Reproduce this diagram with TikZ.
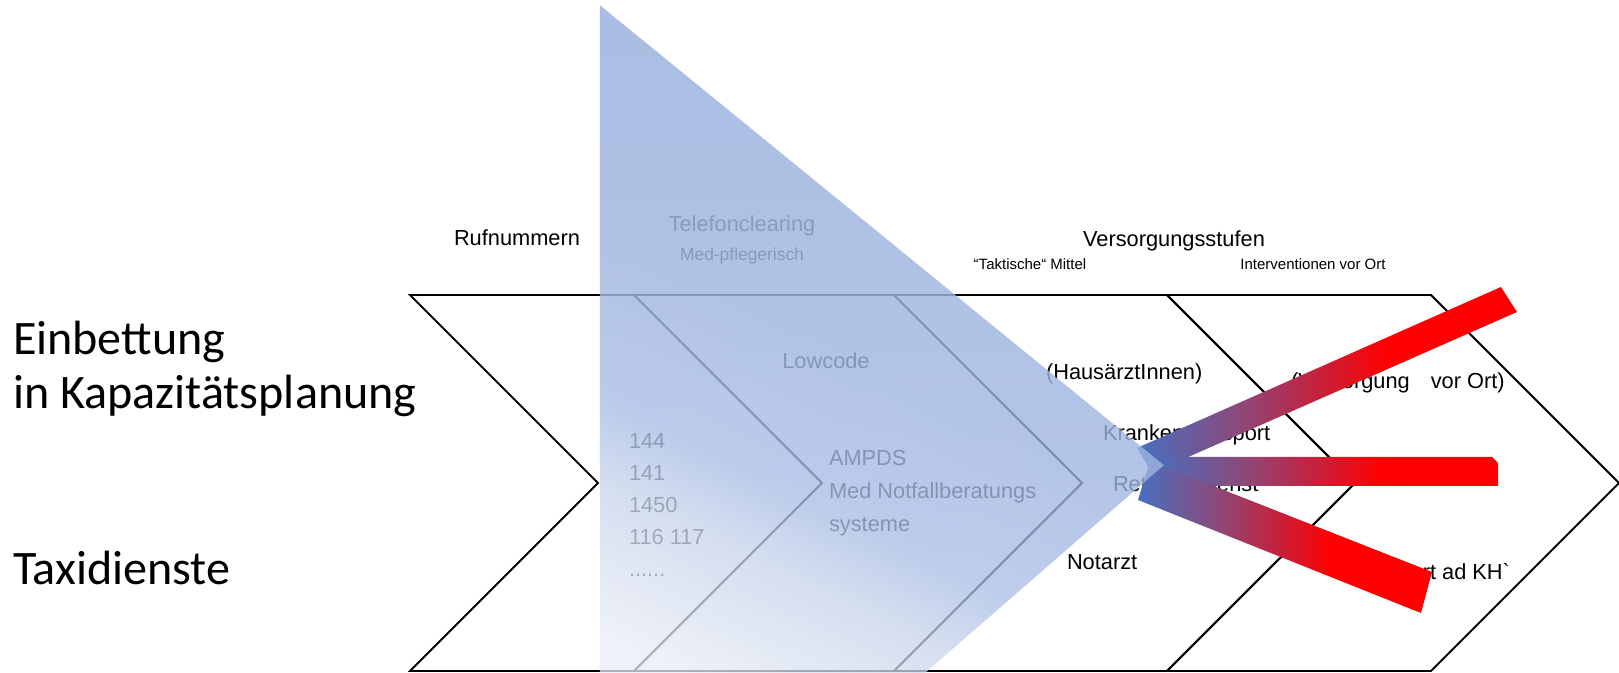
\documentclass[tikz,border=0pt]{standalone}
\usepackage{fontspec}
\setmainfont{Liberation Sans}[Ligatures=TeXOff]
\newfontfamily\calibrifont{Carlito}
\usetikzlibrary{fadings}

% colours of the three red arrows (blue root, red tip)
\definecolor{barA}{HTML}{4670C0}
\definecolor{barB}{HTML}{8A4A7C}
\definecolor{barC}{HTML}{C4223E}
\definecolor{barR}{HTML}{FF0000}
% colours of the translucent blue wedge
\definecolor{ovA}{RGB}{160,182,224}
\definecolor{ovB}{RGB}{171,190,229}
\definecolor{ovC}{RGB}{200,213,235}
\definecolor{ovD}{RGB}{233,237,246}

\pgfdeclarehorizontalshading{bartone}{100bp}{color(0bp)=(barA); color(25bp)=(barA); color(38bp)=(barB); color(48.5bp)=(barC); color(58bp)=(barR); color(100bp)=(barR)}
\pgfdeclareverticalshading{veiltone}{100bp}{color(0bp)=(ovD); color(19bp)=(ovD); color(30bp)=(ovC); color(36bp)=(ovB); color(48bp)=(ovA); color(100bp)=(ovA)}
% wedge is denser at the top than at the bottom
\tikzfading[name=veilfade, top color=transparent!10, bottom color=transparent!25]

\begin{document}
\begin{tikzpicture}[x=0.5pt, y=-0.5pt,
  lbl/.style={font=\fontsize{10.9}{13}\selectfont, inner sep=0pt, outer sep=0pt},
  smalllbl/.style={font=\fontsize{7.5}{9}\selectfont, inner sep=0pt, outer sep=0pt},
  sublbl/.style={font=\fontsize{8.7}{10}\selectfont, inner sep=0pt, outer sep=0pt},
  biglbl/.style={font=\calibrifont\fontsize{24.05}{24}\selectfont, inner sep=0pt, outer sep=0pt},
  chev/.style={draw=black, line width=0.9pt, line join=miter},
  barstyle/.style={shading=bartone},
  veil/.style={shading=veiltone, shading angle=-26.6, path fading=veilfade, fit fading=true}]
\useasboundingbox (0,0) rectangle (1619,673);

% chevron band
\foreach \a/\b in {410/634, 634/894, 894/1167, 1167/1431}
  \draw[chev] (\a,295) -- (\b,295) -- (\b+188,483) -- (\b,671) -- (\a,671) -- (\a+188,483) -- cycle;

% headings
\node[lbl, anchor=base] (rufnummern) at (517,246) {Rufnummern};
\node[lbl, anchor=base] (telefon) at (742,232) {Telefonclearing};
\node[sublbl, anchor=base] (medpfleg) at (742,261) {Med-pflegerisch};
\node[lbl, anchor=base] (stufen) at (1174,247) {Versorgungsstufen};
\node[smalllbl, anchor=base] (taktisch) at (1030,270) {“Taktische“ Mittel};
\node[smalllbl, anchor=base] (interv) at (1313,270) {Interventionen vor Ort};

% chevron contents
\node[lbl, anchor=base] (lowcode) at (826,369) {Lowcode};
\node[lbl, anchor=base west] (num1) at (629,449) {144};
\node[lbl, anchor=base west] (num2) at (629,481) {141};
\node[lbl, anchor=base west] (num3) at (629,513) {1450};
\node[lbl, anchor=base west] (num4) at (629,545) {116 117};
\node[lbl, anchor=base west] (num5) at (629,577) {......};
\node[lbl, anchor=base west] (ampds) at (829,466) {AMPDS};
\node[lbl, anchor=base west] (notfall) at (829,499) {Med Notfallberatungs};
\node[lbl, anchor=base west] (systeme) at (829,532) {systeme};
\node[lbl, anchor=base west] (hausarzt) at (1046,380) {(HausärztInnen)};
\node[lbl, anchor=base west] (kranken) at (1103,441) {Krankentransport};
\node[lbl, anchor=base west] (rettung) at (1113,492) {Rettungsdienst};
\node[lbl, anchor=base west] (notarzt) at (1067,570) {Notarzt};
\node[lbl, anchor=base west] (vorort) at (1291,389) {(Versorgung\hspace{7.5pt} vor Ort)};
\node[lbl, anchor=base east] (transport) at (1510,580) {Transport ad KH`};

% side labels
\node[biglbl, anchor=base west] (einbettung) at (13,355) {Einbettung};
\node[biglbl, anchor=base west] (kapazitaet) at (13,409) {in Kapazitätsplanung};
\node[biglbl, anchor=base west] (taxi) at (13,585) {Taxidienste};

% three arrows fanning out
\shade[barstyle] (1137,448) -- (1501,287) -- (1517,312) -- (1152,473) -- cycle;
\shade[barstyle] (1150,457) -- (1492,457) -- (1498,463) -- (1498,486) -- (1150,486) -- cycle;
\shade[barstyle] (1150,461) -- (1432,572) -- (1421,613) -- (1138,500) -- cycle;

% translucent wedge
\shade[veil] (600,5) -- (1164,465) -- (925,673) -- (600,673) -- cycle;
\end{tikzpicture}
\end{document}
